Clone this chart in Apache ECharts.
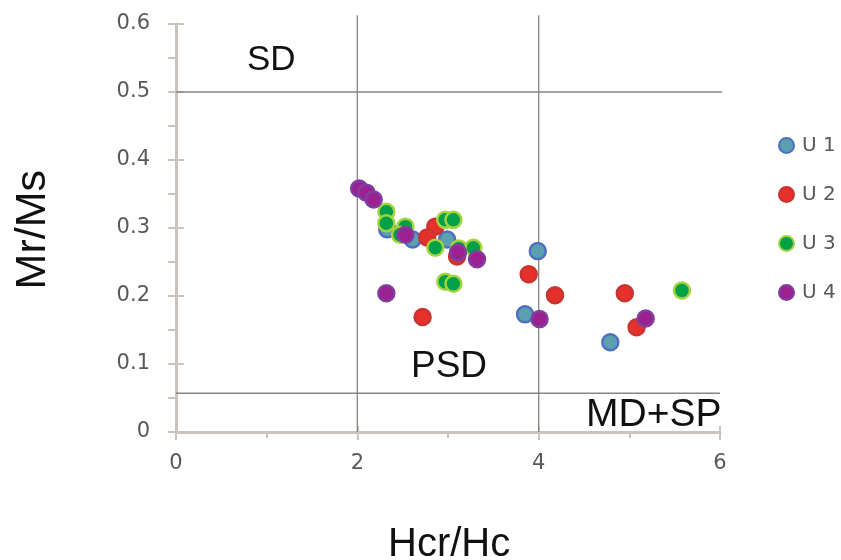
<!DOCTYPE html>
<html>
<head>
<meta charset="utf-8">
<script src="https://cdn.jsdelivr.net/npm/echarts@6/dist/echarts.min.js"></script>
<style>
  html, body { margin: 0; padding: 0; background: #ffffff; }
  #chart { width: 841px; height: 560px; }
</style>
</head>
<body>
<div id="chart"></div>
<script>
// Day plot: Mr/Ms against Hcr/Hc for four units
const seriesNames = ['U 1', 'U 2', 'U 3', 'U 4'];

const u1 = [[2.33, 0.298], [2.61, 0.283], [2.99, 0.283], [3.99, 0.266], [3.85, 0.173], [4.79, 0.132]];
const u2 = [[2.86, 0.302], [2.77, 0.286], [3.10, 0.258], [2.72, 0.169], [3.89, 0.232], [4.18, 0.201],
            [4.95, 0.204], [5.08, 0.154]];
const u3 = [[2.32, 0.324], [2.32, 0.307], [2.53, 0.302], [2.47, 0.290], [2.97, 0.312], [3.06, 0.312],
            [2.86, 0.271], [3.12, 0.270], [3.28, 0.271], [2.97, 0.221], [3.06, 0.218], [5.58, 0.208]];
const u4 = [[2.02, 0.358], [2.10, 0.352], [2.18, 0.342], [2.53, 0.290], [3.11, 0.264], [3.32, 0.254],
            [2.32, 0.204], [4.01, 0.166], [5.18, 0.167]];

// Domain boundaries (SD / PSD / MD+SP)
const mrmsSD = 0.5;
const mrmsMD = 0.057;
const hcrBounds = [2, 4];

const xTicks = [0, 2, 4, 6];
const yTicks = [0, 0.1, 0.2, 0.3, 0.4, 0.5, 0.6];

const fills = ['#5b9fb0', '#e6302b', '#02a047', '#9c2190'];
const rims  = ['#4f6fc0', '#c8342f', '#a3d43f', '#7e3fa0'];

const chart = echarts.init(document.getElementById('chart'), null, { renderer: 'canvas' });

const axisColor = '#cbc3bd';
const labelFont = { fontFamily: 'DejaVu Sans', fontSize: 21, color: '#595959' };

const xMin = xTicks[0], xMax = xTicks[xTicks.length - 1];
const yMin = yTicks[0], yMax = yTicks[yTicks.length - 1];

function boundaryLine(data) {
  return {
    type: 'line', data: data, symbol: 'none', silent: true, clip: false,
    lineStyle: { color: '#8a8482', width: 1.3 }, z: 1, legendHoverLink: false
  };
}

const scatter = [u1, u2, u3, u4].map((d, i) => ({
  name: seriesNames[i],
  type: 'scatter',
  data: d,
  symbol: 'circle',
  symbolSize: 16,
  itemStyle: { color: fills[i], borderColor: rims[i], borderWidth: 2.5, opacity: 1 },
  z: 3 + i
}));

chart.setOption({
  animation: false,
  backgroundColor: '#ffffff',
  grid: { left: 176, top: 24, width: 544, height: 408, containLabel: false },
  xAxis: [
    {
      type: 'value', min: xMin, max: xMax, interval: 2,
      axisLine: { show: true, onZero: false, lineStyle: { color: axisColor, width: 3 } },
      axisTick: { show: true, length: 8, lineStyle: { color: axisColor, width: 2 } },
      minorTick: { show: true, splitNumber: 2, length: 6, lineStyle: { color: axisColor, width: 2 } },
      splitLine: { show: false },
      axisLabel: Object.assign({ margin: 21 }, labelFont)
    },
    {
      type: 'value', min: xMin, max: xMax, interval: 2, position: 'bottom',
      axisLine: { show: false },
      axisTick: { show: true, inside: true, length: 6, lineStyle: { color: axisColor, width: 2 } },
      splitLine: { show: false }, axisLabel: { show: false }
    }
  ],
  yAxis: [
    {
      type: 'value', min: yMin, max: yMax, interval: 0.1,
      axisLine: { show: true, onZero: false, lineStyle: { color: axisColor, width: 3 } },
      axisTick: { show: true, length: 8, lineStyle: { color: axisColor, width: 2 } },
      minorTick: { show: true, splitNumber: 2, length: 8, lineStyle: { color: axisColor, width: 2 } },
      splitLine: { show: false },
      axisLabel: Object.assign({ margin: 26, formatter: v => (v === 0 ? '0' : v.toFixed(1)) }, labelFont)
    },
    {
      type: 'value', min: yMin, max: yMax, interval: 0.1, position: 'left',
      axisLine: { show: false },
      axisTick: { show: true, inside: true, length: 8, lineStyle: { color: axisColor, width: 2 } },
      splitLine: { show: false }, axisLabel: { show: false }
    }
  ],
  legend: {
    orient: 'vertical',
    left: 778, top: 134,
    padding: 0,
    icon: 'circle',
    itemWidth: 15, itemHeight: 15,
    itemGap: 26,
    data: seriesNames,
    textStyle: { fontFamily: 'DejaVu Sans', fontSize: 20, color: '#595959', lineHeight: 23, padding: [0, 0, 0, 3] }
  },
  graphic: [
    { type: 'text', left: 247, top: 43, style: { text: 'SD', font: '35px "Liberation Sans"', fill: '#111' } },
    { type: 'text', left: 411, top: 348, style: { text: 'PSD', font: '37px "Liberation Sans"', fill: '#111' } },
    { type: 'text', left: 586, top: 396, style: { text: 'MD+SP', font: '39px "Liberation Sans"', fill: '#111' } },
    { type: 'text', left: 388, top: 525, style: { text: 'Hcr/Hc', font: '40px "Liberation Sans"', fill: '#111' } },
    { type: 'text', left: 12, top: 170, rotation: Math.PI / 2,
      style: { text: 'Mr/Ms', font: '43px "Liberation Sans"', fill: '#111' } }
  ],
  series: [
    boundaryLine([[xMin, mrmsSD], [6.1, mrmsSD]]),
    boundaryLine([[xMin, mrmsMD], [6.0, mrmsMD]]),
    boundaryLine([[hcrBounds[0], yMin], [hcrBounds[0], 0.613]]),
    boundaryLine([[hcrBounds[1], yMin], [hcrBounds[1], 0.613]])
  ].concat(scatter)
});
</script>
</body>
</html>
